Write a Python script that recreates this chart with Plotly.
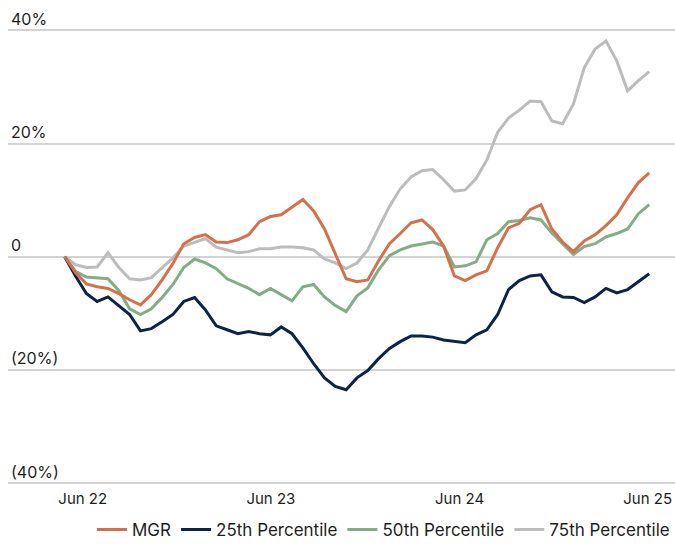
import pandas as pd
import plotly.graph_objects as go

dates = pd.date_range("2022-04-27", periods=55, freq="21D")

mgr = [0, -2.8, -4.8, -5.3, -5.6, -6.5, -7.6, -8.5, -6.7, -4.1, -1.2, 2.3, 3.4, 3.9, 2.6,
       2.5, 3.0, 3.9, 6.2, 7.1, 7.4, 8.8, 10.1, 8.1, 4.9, 0.5, -3.9, -4.4, -4.1, -0.7,
       2.3, 4.1, 6.0, 6.5, 4.8, 1.9, -3.4, -4.2, -3.2, -2.5, 1.6, 5.1, 5.9, 8.3, 9.2,
       4.9, 2.6, 0.9, 2.8, 3.9, 5.5, 7.4, 10.4, 13.1, 14.8]
p25 = [0, -3.4, -6.5, -7.9, -7.1, -8.7, -10.2, -13.1, -12.7, -11.5, -10.2, -7.9, -7.2, -9.4, -12.2,
       -12.9, -13.6, -13.2, -13.6, -13.8, -12.4, -13.6, -16.1, -18.9, -21.4, -22.9, -23.5, -21.4, -20.1, -18.0,
       -16.2, -15.0, -14.0, -14.0, -14.2, -14.7, -15.0, -15.2, -13.8, -12.9, -10.2, -5.8, -4.2, -3.4, -3.2,
       -6.2, -7.1, -7.2, -8.1, -7.1, -5.6, -6.4, -5.8, -4.4, -3.0]
p50 = [0, -2.6, -3.6, -3.7, -3.9, -6.0, -9.2, -10.2, -9.2, -7.2, -4.9, -1.9, -0.4, -1.1, -2.1,
       -3.9, -4.8, -5.6, -6.7, -5.6, -6.7, -7.8, -5.3, -4.9, -7.1, -8.6, -9.7, -6.9, -5.5, -2.3,
       0.2, 1.2, 1.9, 2.3, 2.6, 1.9, -1.8, -1.6, -0.9, 3.0, 4.1, 6.2, 6.4, 6.9, 6.5,
       4.2, 2.3, 0.4, 1.8, 2.3, 3.5, 4.1, 4.9, 7.6, 9.2]
p75 = [0, -1.4, -1.9, -1.8, 0.7, -1.9, -3.9, -4.1, -3.7, -1.9, -0.2, 1.9, 2.6, 3.2, 1.7,
       1.2, 0.7, 0.9, 1.4, 1.4, 1.7, 1.7, 1.6, 1.2, -0.4, -1.1, -2.1, -1.1, 1.2, 5.1,
       8.9, 12.0, 14.1, 15.2, 15.4, 13.6, 11.6, 11.8, 13.8, 17.1, 22.0, 24.5, 25.9, 27.5, 27.4,
       24.0, 23.5, 27.0, 33.4, 36.7, 38.1, 34.6, 29.3, 31.1, 32.7]

y_ticks = [40, 20, 0, -20, -40]
y_labels = ["40%", "20%", "0", "(20%)", "(40%)"]
x_ticks = ["2022-06-01", "2023-06-01", "2024-06-01", "2025-06-01"]
x_labels = ["Jun 22", "Jun 23", "Jun 24", "Jun 25"]

series = [
    ("MGR", mgr, "#D6704B"),
    ("25th Percentile", p25, "#0C2446"),
    ("50th Percentile", p50, "#82AD87"),
    ("75th Percentile", p75, "#BCBCBC"),
]

fig = go.Figure()
for name, vals, col in [series[3], series[2], series[1], series[0]]:
    fig.add_trace(go.Scatter(x=dates, y=vals, mode="lines", name=name,
                             line=dict(color=col, width=3)))

fig.update_layout(
    width=675, height=544,
    margin=dict(l=8, r=0, t=2, b=58, autoexpand=False),
    paper_bgcolor="white", plot_bgcolor="white",
    font=dict(family="Inter, Roboto, sans-serif", size=15, color="#1E1E1E"),
    showlegend=True,
    legend=dict(orientation="h", x=1, xanchor="right",
                yref="container", y=0.026, yanchor="middle",
                traceorder="reversed", font=dict(size=17, color="#1E1E1E"),
                itemwidth=30),
)
fig.update_xaxes(
    range=["2022-01-07", "2025-07-24"],
    tickvals=x_ticks, ticktext=x_labels,
    showgrid=False, showline=False, zeroline=False, ticks="",
    ticklabelstandoff=2, automargin=False,
    tickfont=dict(size=15, color="#1E1E1E"),
)
fig.update_yaxes(
    range=[-40.5, 45],
    tickvals=y_ticks, ticktext=y_labels,
    ticklabelposition="inside top", automargin=False,
    showgrid=True, gridcolor="#D3D3D3", gridwidth=1.5,
    zeroline=False, showline=False, ticks="",
    tickfont=dict(size=16, color="#1E1E1E"),
)

fig.write_html("out.html")
